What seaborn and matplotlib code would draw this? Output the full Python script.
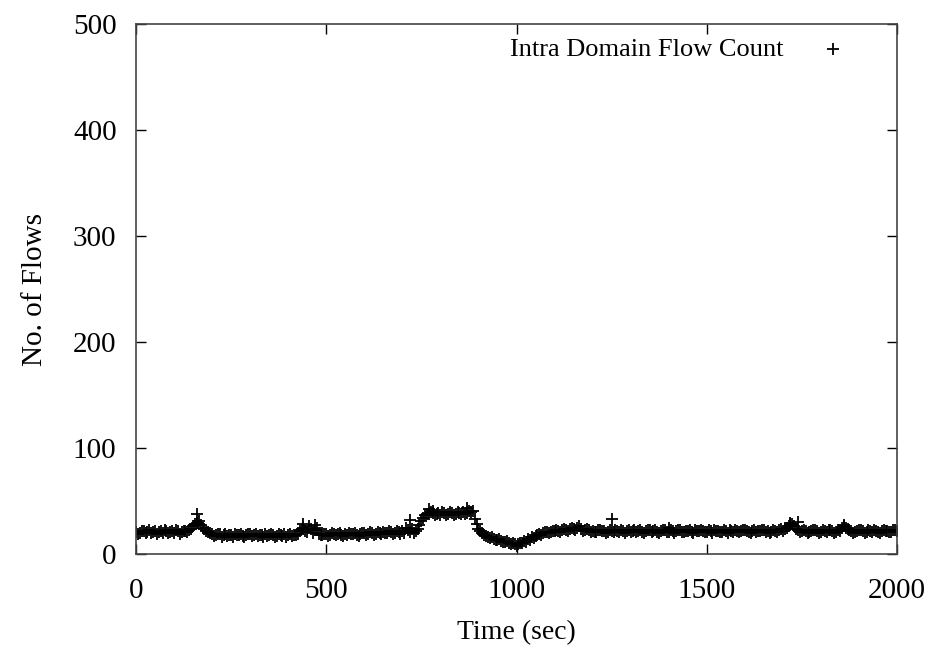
import matplotlib
matplotlib.use("Agg")
import matplotlib.pyplot as plt
import seaborn as sns
import numpy as np
import pandas as pd

# ---- data ----
# samples on the 10 s grid
times_a = list(range(0, 2001, 10))
flows_a = (
    [21, 20, 22, 21, 20, 22, 21, 20, 22, 21, 20, 22, 21, 22, 23]          # 0-140
    + [26, 29, 27, 24, 21]                                                  # 150-190
    + [19, 18, 19, 18, 17, 18, 19, 18, 17, 18, 19, 18, 17, 18, 19, 18,
       18, 17, 18, 19, 18, 17, 18]                                          # 200-420
    + [22, 25, 21, 24, 23, 19]                                              # 430-480
    + [18, 19, 18, 19, 19, 18, 19, 20, 19, 18, 19, 20, 19, 20, 19, 20,
       21, 20, 21, 20, 21]                                                  # 490-690
    + [22, 25, 21, 20, 24]                                                  # 700-740
    + [31, 37]                                                              # 750-760
    + [38, 39, 38, 37, 39, 38, 39, 38, 39, 40, 39, 40]                      # 770-880
    + [33, 24, 20, 17, 15, 14, 13, 12, 11, 10, 10]                          # 890-990
    + [8]                                                                   # 1000
    + [10, 12, 14, 16, 17, 19, 20, 21, 21, 22, 22, 23, 23, 24, 24, 25,
       24, 23, 23]                                                          # 1010-1190
    + [22, 21, 23, 22, 21, 22, 23, 21, 22, 22,
       21, 23, 22, 21, 22, 23, 22, 21, 22, 23,
       21, 22, 22, 23, 21, 22, 21, 23, 22, 22,
       21, 22, 23, 22, 21, 22, 23, 21, 22, 22,
       23, 21, 22, 21, 22, 23, 22, 21, 22, 23, 22]                          # 1200-1700
    + [25, 27, 26, 23, 22]                                                  # 1710-1750
    + [22, 21, 23, 22, 21, 22, 23, 22, 21, 22]                              # 1760-1850
    + [26, 24]                                                              # 1860-1870
    + [22, 21, 23, 22, 21, 22, 23, 21, 22, 22, 21, 23, 22]                  # 1880-2000
)
# samples half-way between (5 s, 15 s, ...)
times_b = list(range(5, 2000, 10))
flows_b = (
    [19, 22, 20, 23, 21, 19, 22, 23, 20, 22, 23, 19, 22, 21, 24]           # 5-145
    + [28, 31, 25, 22, 20]                                                  # 155-195
    + [17, 19, 16, 19, 18, 16, 18, 19, 16, 19, 17, 19, 18, 16, 17, 19,
       16, 19, 17, 16, 19, 18, 19]                                          # 205-425
    + [24, 22, 26, 20, 25, 18]                                              # 435-485
    + [19, 17, 20, 18, 20, 17, 18, 19, 20, 17, 20, 18, 21, 18, 21, 19,
       20, 22, 19, 22, 19]                                                  # 495-695
    + [20, 23, 24, 22, 27]                                                  # 705-745
    + [34, 38]                                                              # 755-765
    + [40, 37, 39, 40, 37, 40, 37, 40, 38, 38, 41, 41]                      # 775-885
    + [28, 22, 18, 16, 16, 13, 14, 11, 12, 9, 9]                            # 895-995
    + [9, 10, 11, 13, 15, 18, 18, 21, 20, 22, 23, 21, 24, 22, 25, 23,
       26, 22, 24, 21]                                                      # 1005-1195
    + [21, 23, 22, 20, 23, 21, 22, 23, 20, 23,
       22, 21, 23, 20, 23, 21, 23, 20, 23, 21,
       23, 20, 23, 21, 22, 23, 20, 22, 23, 21,
       23, 20, 22, 21, 23, 20, 22, 23, 21, 23,
       22, 20, 23, 22, 23, 21, 20, 23, 21, 24]                              # 1205-1695
    + [24, 26, 28, 24, 21]                                                  # 1705-1745
    + [23, 20, 22, 23, 20, 23, 21, 23, 20, 23]                              # 1755-1845
    + [25, 25]                                                              # 1855-1865
    + [23, 20, 22, 23, 20, 23, 21, 22, 20, 23, 22, 21, 23]                  # 1875-1995
)
spike_times = [160, 440, 470, 720, 770, 780, 870, 1250, 1400, 1720, 1740, 1860]
spike_flows = [38, 28, 27, 32, 42, 41, 43, 33, 25, 29, 30, 27]

x_ticks = [0, 500, 1000, 1500, 2000]
y_ticks = [0, 100, 200, 300, 400, 500]
series_label = "Intra Domain Flow Count"

df = pd.DataFrame({"Time": times_a + times_b + spike_times,
                   "Flows": flows_a + flows_b + spike_flows})

# ---- style ----
sns.set_theme(style="ticks")
plt.rcParams["font.family"] = ["Liberation Serif", "DejaVu Serif"]

fig = plt.figure(figsize=(9.3, 6.52), dpi=100)
ax = fig.add_axes([136 / 930, 1 - 554 / 652, (897 - 136) / 930, (554 - 24) / 652])

sns.scatterplot(data=df, x="Time", y="Flows", marker="+", s=70,
                color="black", linewidth=1.3, ax=ax, label=series_label)

ax.set_xlim(0, 2000)
ax.set_ylim(0, 500)
ax.set_xticks(x_ticks)
ax.set_yticks(y_ticks)
ax.tick_params(direction="in", length=7, width=1, top=True, right=True,
               labelsize=21, colors="black")
ax.tick_params(axis="x", pad=17)
ax.tick_params(axis="y", pad=14)
for sp in ax.spines.values():
    sp.set_visible(True)
    sp.set_color("#444444")
    sp.set_linewidth(1.2)

ax.set_xlabel("Time (sec)", fontsize=20, labelpad=12, color="black")
ax.set_ylabel("No. of Flows", fontsize=21, labelpad=18, color="black")

leg = ax.legend(loc="upper right", frameon=False, markerfirst=False,
                fontsize=19, handletextpad=0.9, borderaxespad=0.0,
                bbox_to_anchor=(0.965, 0.995))
for t in leg.get_texts():
    t.set_color("black")

fig.savefig("out.png", dpi=100)
